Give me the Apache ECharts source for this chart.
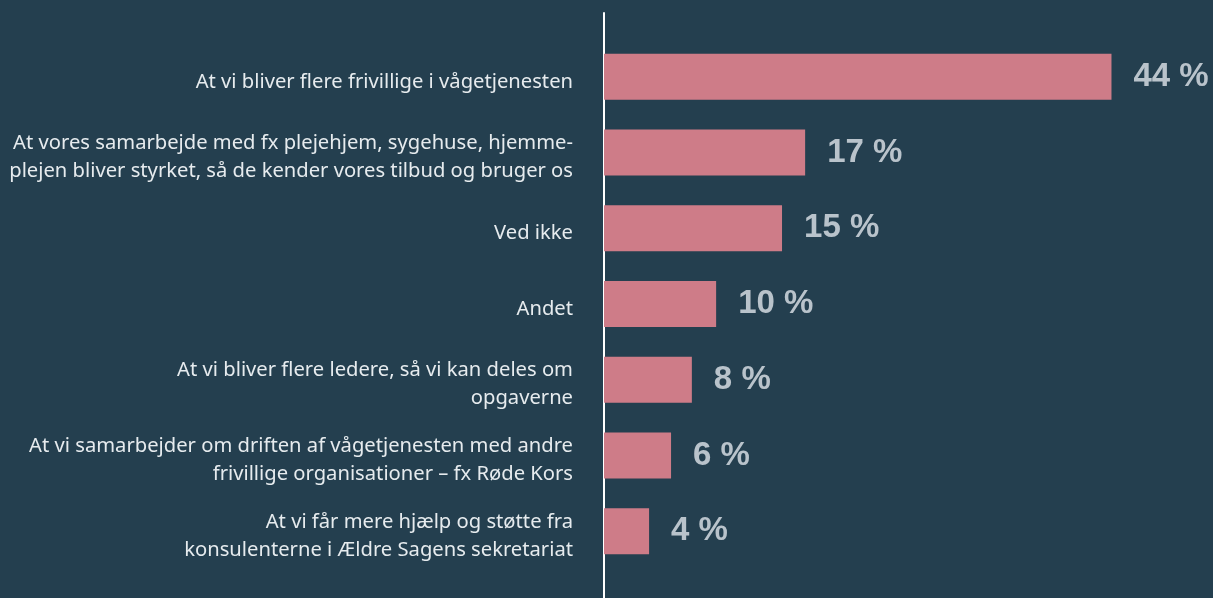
<!DOCTYPE html>
<html>
<head>
<meta charset="utf-8">
<script src="https://cdn.jsdelivr.net/npm/echarts@6/dist/echarts.min.js"></script>
<style>
  html, body { margin: 0; padding: 0; background: #243f4f; }
  #chart { width: 1213px; height: 598px; }
</style>
</head>
<body>
<div id="chart"></div>
<script>
// kategorier (oppefra og ned)
const categories = [
  'At vi bliver flere frivillige i vågetjenesten',
  'At vores samarbejde med fx plejehjem, sygehuse, hjemme-\nplejen bliver styrket, så de kender vores tilbud og bruger os',
  'Ved ikke',
  'Andet',
  'At vi bliver flere ledere, så vi kan deles om\nopgaverne',
  'At vi samarbejder om driften af vågetjenesten med andre\nfrivillige organisationer – fx Røde Kors',
  'At vi får mere hjælp og støtte fra\nkonsulenterne i Ældre Sagens sekretariat'
]
// andel i procent (aflæst søjlelængde; etiketten viser afrundet tal)
const values = [43.9, 17.4, 15.4, 9.7, 7.6, 5.8, 3.9]

const chart = echarts.init(document.getElementById('chart'))
chart.setOption({
  backgroundColor: '#243f4f',
  animation: false,
  grid: [
    // søjler
    { left: 604, right: 31, top: 39, bottom: 29 },
    // kun til den lodrette akselinje
    { left: 604, width: 10, top: 13, bottom: 0 },
    // kategoritekster, lidt forskudt nedad
    { left: 604, right: 31, top: 44, bottom: 24 }
  ],
  xAxis: [
    { type: 'value', min: 0, max: 50, show: false, gridIndex: 0 },
    { type: 'value', show: false, gridIndex: 1 },
    { type: 'value', show: false, gridIndex: 2 }
  ],
  yAxis: [
    {
      type: 'category',
      gridIndex: 0,
      data: categories,
      inverse: true,
      axisLine: { show: false },
      axisTick: { show: false },
      axisLabel: { show: false }
    },
    {
      type: 'value',
      gridIndex: 1,
      axisLine: { show: true, lineStyle: { color: '#ffffff', width: 2 } },
      axisTick: { show: false },
      axisLabel: { show: false },
      splitLine: { show: false }
    },
    {
      type: 'category',
      gridIndex: 2,
      data: categories,
      inverse: true,
      axisLine: { show: false },
      axisTick: { show: false },
      axisLabel: {
        color: '#e6ebee',
        fontFamily: 'Noto Sans',
        fontSize: 20.2,
        lineHeight: 28,
        margin: 31,
        align: 'right'
      }
    }
  ],
  series: [
    {
      type: 'bar',
      data: values,
      barWidth: 46,
      itemStyle: { color: '#ce7c88' },
      label: {
        show: true,
        position: 'right',
        distance: 22,
        formatter: (p) => Math.round(p.value) + ' %',
        color: '#b9c3cb',
        fontFamily: 'Liberation Sans',
        fontWeight: 'bold',
        fontSize: 33
      }
    }
  ]
})
</script>
</body>
</html>
